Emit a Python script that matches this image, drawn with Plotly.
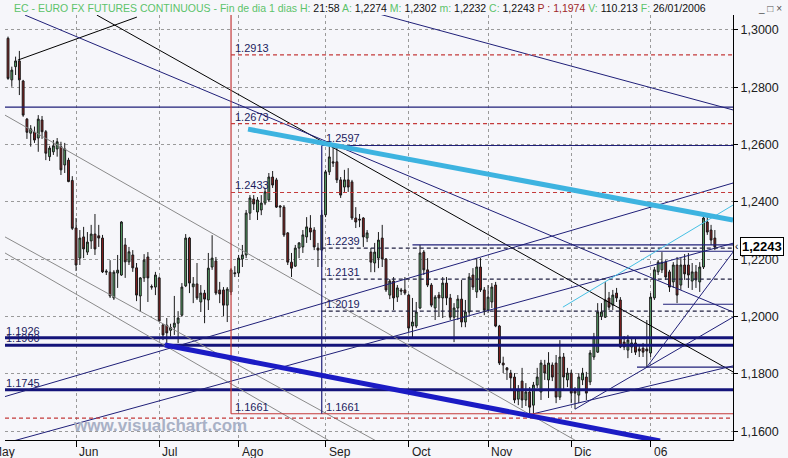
import pandas as pd
import plotly.graph_objects as go

# ---------------- data ----------------
holidays = ["2005-12-26", "2006-01-02"]
dates = [d for d in pd.bdate_range("2005-05-06", "2006-01-26") if d.strftime("%Y-%m-%d") not in holidays]

open_ = [1.2971, 1.2826, 1.2872, 1.2892, 1.2822, 1.2689, 1.2640, 1.2644, 1.2623, 1.2686,
         1.2645, 1.2558, 1.2575, 1.2585, 1.2593, 1.2529, 1.2546, 1.2475, 1.2309, 1.2204,
         1.2278, 1.2225, 1.2264, 1.2288, 1.2282, 1.2274, 1.2155, 1.2155, 1.2065, 1.2152,
         1.2145, 1.2250, 1.2191, 1.2215, 1.2170, 1.2072, 1.2135, 1.2208, 1.2105, 1.2103,
         1.2135, 1.1971, 1.1970, 1.1952, 1.1963, 1.1977, 1.2005, 1.2107, 1.2274, 1.2104,
         1.2114, 1.2051, 1.2082, 1.2058, 1.2173, 1.2194, 1.2093, 1.2093, 1.2040, 1.2086,
         1.2153, 1.2152, 1.2201, 1.2215, 1.2361, 1.2410, 1.2365, 1.2372, 1.2396, 1.2407,
         1.2487, 1.2477, 1.2386, 1.2382, 1.2292, 1.2190, 1.2176, 1.2239, 1.2243, 1.2278,
         1.2309, 1.2302, 1.2239, 1.2232, 1.2355, 1.2505, 1.2540, 1.2540, 1.2477, 1.2452,
         1.2477, 1.2470, 1.2344, 1.2340, 1.2344, 1.2274, 1.2225, 1.2187, 1.2204, 1.2274,
         1.2201, 1.2075, 1.2124, 1.2068, 1.2093, 1.2093, 1.2075, 1.1967, 1.1967, 1.2030,
         1.2225, 1.2163, 1.2110, 1.2030, 1.2075, 1.2065, 1.2117, 1.2065, 1.1998, 1.2030,
         1.2061, 1.1981, 1.2016, 1.2145, 1.2086, 1.2173, 1.2093, 1.2023, 1.2051, 1.2110,
         1.1967, 1.1838, 1.1821, 1.1803, 1.1789, 1.1712, 1.1775, 1.1709, 1.1737, 1.1691,
         1.1761, 1.1737, 1.1831, 1.1779, 1.1831, 1.1838, 1.1719, 1.1859, 1.1779, 1.1803,
         1.1744, 1.1726, 1.1779, 1.1789, 1.1772, 1.1859, 1.1876, 1.2000, 1.1998, 1.2065,
         1.2040, 1.2082, 1.2058, 1.1911, 1.1883, 1.1894, 1.1908, 1.1887, 1.1890, 1.1887,
         1.1873, 1.2065, 1.2156, 1.2163, 1.2190, 1.2156, 1.2121, 1.2180, 1.2110, 1.2180,
         1.2180, 1.2124, 1.2156, 1.2121, 1.2173, 1.2330, 1.2302, 1.2274]
high = [1.2977, 1.2872, 1.2907, 1.2927, 1.2826, 1.2693, 1.2668, 1.2663, 1.2703, 1.2700,
        1.2651, 1.2596, 1.2616, 1.2623, 1.2610, 1.2606, 1.2554, 1.2490, 1.2344, 1.2302,
        1.2313, 1.2295, 1.2320, 1.2358, 1.2320, 1.2285, 1.2165, 1.2197, 1.2162, 1.2215,
        1.2333, 1.2274, 1.2243, 1.2232, 1.2187, 1.2138, 1.2218, 1.2225, 1.2112, 1.2156,
        1.2140, 1.1974, 1.1995, 1.1975, 1.2072, 1.2019, 1.2117, 1.2288, 1.2278, 1.2138,
        1.2187, 1.2110, 1.2093, 1.2222, 1.2284, 1.2208, 1.2121, 1.2103, 1.2103, 1.2169,
        1.2176, 1.2215, 1.2250, 1.2372, 1.2424, 1.2424, 1.2417, 1.2424, 1.2449, 1.2501,
        1.2508, 1.2484, 1.2389, 1.2389, 1.2295, 1.2222, 1.2250, 1.2260, 1.2302, 1.2347,
        1.2354, 1.2312, 1.2257, 1.2372, 1.2512, 1.2597, 1.2595, 1.2592, 1.2487, 1.2512,
        1.2518, 1.2477, 1.2382, 1.2358, 1.2347, 1.2302, 1.2239, 1.2257, 1.2295, 1.2320,
        1.2204, 1.2131, 1.2138, 1.2110, 1.2100, 1.2138, 1.2079, 1.2065, 1.2051, 1.2250,
        1.2232, 1.2204, 1.2117, 1.2075, 1.2086, 1.2138, 1.2138, 1.2079, 1.2047, 1.2075,
        1.2128, 1.2058, 1.2152, 1.2169, 1.2204, 1.2204, 1.2103, 1.2110, 1.2117, 1.2121,
        1.1971, 1.1860, 1.1824, 1.1814, 1.1803, 1.1761, 1.1821, 1.1768, 1.1754, 1.1772,
        1.1821, 1.1849, 1.1849, 1.1876, 1.1840, 1.1866, 1.1918, 1.1873, 1.1821, 1.1814,
        1.1754, 1.1803, 1.1821, 1.1807, 1.1883, 1.1943, 1.2047, 1.2047, 1.2120, 1.2086,
        1.2093, 1.2100, 1.2068, 1.1932, 1.1936, 1.1929, 1.1925, 1.1901, 1.1908, 1.1988,
        1.2082, 1.2173, 1.2197, 1.2225, 1.2197, 1.2163, 1.2190, 1.2208, 1.2204, 1.2218,
        1.2222, 1.2187, 1.2180, 1.2190, 1.2354, 1.2361, 1.2320, 1.2302]
low = [1.2826, 1.2802, 1.2843, 1.2773, 1.2697, 1.2620, 1.2593, 1.2606, 1.2575, 1.2620,
       1.2546, 1.2543, 1.2564, 1.2558, 1.2494, 1.2501, 1.2469, 1.2302, 1.2159, 1.2180,
       1.2204, 1.2215, 1.2236, 1.2215, 1.2243, 1.2152, 1.2145, 1.2065, 1.2058, 1.2100,
       1.2142, 1.2135, 1.2180, 1.2156, 1.2054, 1.2016, 1.2121, 1.2051, 1.2094, 1.2075,
       1.1981, 1.1918, 1.1895, 1.1930, 1.1936, 1.1908, 1.2000, 1.2103, 1.2082, 1.2047,
       1.2058, 1.2016, 1.1977, 1.2023, 1.2163, 1.2075, 1.2047, 1.2002, 1.1981, 1.2075,
       1.2138, 1.2138, 1.2173, 1.2204, 1.2337, 1.2372, 1.2337, 1.2354, 1.2389, 1.2400,
       1.2449, 1.2379, 1.2347, 1.2278, 1.2180, 1.2138, 1.2173, 1.2204, 1.2222, 1.2257,
       1.2267, 1.2232, 1.2173, 1.2173, 1.2347, 1.2494, 1.2522, 1.2466, 1.2414, 1.2435,
       1.2435, 1.2337, 1.2309, 1.2312, 1.2243, 1.2260, 1.2155, 1.2155, 1.2169, 1.2173,
       1.2086, 1.2061, 1.2023, 1.2051, 1.2075, 1.2075, 1.1946, 1.1925, 1.1960, 1.2026,
       1.2145, 1.2103, 1.2033, 1.1988, 1.2000, 1.1995, 1.2040, 1.1988, 1.1911, 1.1988,
       1.1963, 1.1963, 1.2005, 1.2093, 1.2065, 1.2086, 1.2005, 1.2012, 1.2030, 1.1963,
       1.1831, 1.1803, 1.1779, 1.1744, 1.1698, 1.1691, 1.1681, 1.1688, 1.1663, 1.1661,
       1.1751, 1.1709, 1.1779, 1.1716, 1.1775, 1.1698, 1.1709, 1.1744, 1.1754, 1.1698,
       1.1677, 1.1698, 1.1761, 1.1709, 1.1761, 1.1849, 1.1873, 1.1988, 1.1995, 1.2023,
       1.2023, 1.2051, 1.1890, 1.1883, 1.1855, 1.1873, 1.1866, 1.1859, 1.1859, 1.1824,
       1.1859, 1.2058, 1.2145, 1.2152, 1.2128, 1.2086, 1.2100, 1.2047, 1.2093, 1.2128,
       1.2100, 1.2093, 1.2100, 1.2086, 1.2166, 1.2285, 1.2250, 1.2232]
close = [1.2831, 1.2860, 1.2892, 1.2826, 1.2703, 1.2643, 1.2655, 1.2616, 1.2689, 1.2645,
         1.2570, 1.2588, 1.2596, 1.2610, 1.2512, 1.2585, 1.2471, 1.2308, 1.2180, 1.2274,
         1.2236, 1.2260, 1.2288, 1.2236, 1.2274, 1.2156, 1.2158, 1.2072, 1.2155, 1.2162,
         1.2330, 1.2191, 1.2226, 1.2170, 1.2075, 1.2135, 1.2197, 1.2135, 1.2103, 1.2145,
         1.1985, 1.1936, 1.1943, 1.1962, 1.1977, 1.1995, 1.2103, 1.2274, 1.2117, 1.2114,
         1.2065, 1.2082, 1.2061, 1.2169, 1.2204, 1.2082, 1.2079, 1.2040, 1.2096, 1.2163,
         1.2150, 1.2204, 1.2215, 1.2361, 1.2414, 1.2393, 1.2407, 1.2396, 1.2435, 1.2487,
         1.2459, 1.2382, 1.2382, 1.2285, 1.2190, 1.2169, 1.2239, 1.2257, 1.2285, 1.2313,
         1.2295, 1.2243, 1.2232, 1.2354, 1.2505, 1.2557, 1.2536, 1.2477, 1.2424, 1.2477,
         1.2452, 1.2344, 1.2330, 1.2337, 1.2278, 1.2292, 1.2190, 1.2225, 1.2267, 1.2201,
         1.2093, 1.2124, 1.2065, 1.2100, 1.2089, 1.2082, 1.1960, 1.1981, 1.2016, 1.2222,
         1.2163, 1.2110, 1.2040, 1.2068, 1.2065, 1.2117, 1.2065, 1.1998, 1.2030, 1.2061,
         1.1981, 1.2016, 1.2138, 1.2103, 1.2173, 1.2093, 1.2023, 1.2068, 1.2103, 1.1967,
         1.1838, 1.1831, 1.1814, 1.1786, 1.1709, 1.1744, 1.1709, 1.1737, 1.1684, 1.1761,
         1.1789, 1.1838, 1.1803, 1.1838, 1.1789, 1.1719, 1.1859, 1.1789, 1.1803, 1.1733,
         1.1733, 1.1789, 1.1803, 1.1733, 1.1873, 1.1929, 1.2016, 1.2016, 1.2058, 1.2033,
         1.2075, 1.2065, 1.1894, 1.1894, 1.1918, 1.1908, 1.1876, 1.1880, 1.1876, 1.1880,
         1.2068, 1.2163, 1.2190, 1.2190, 1.2138, 1.2103, 1.2180, 1.2075, 1.2180, 1.2149,
         1.2145, 1.2156, 1.2128, 1.2173, 1.2344, 1.2295, 1.2267, 1.2243]

month_ticks = ["2005-06-01", "2005-07-01", "2005-08-01", "2005-09-01", "2005-10-03",
               "2005-11-01", "2005-12-01", "2006-01-03"]
month_labels = ["Jun", "Jul", "Ago", "Sep", "Oct", "Nov", "Dic", "06"]
price_ticks = [1.16, 1.18, 1.20, 1.22, 1.24, 1.26, 1.28, 1.30]
price_labels = ["1,1600", "1,1800", "1,2000", "1,2200", "1,2400", "1,2600", "1,2800", "1,3000"]

X_START = "2005-05-05 04:48"
X_END = "2006-02-01 19:12"
Y_MIN, Y_MAX = 1.15694, 1.30523

# fibonacci tools
red_fib_date = "2005-07-28"
red_fib_levels = [1.2913, 1.2673, 1.2433]
red_fib_base = 1.1661
red_full_dashed = 1.1646
blue_fib_date = "2005-08-31"
blue_fib_top = 1.2597
blue_fib_levels = [1.2239, 1.2131, 1.2019]
blue_fib_base = 1.1661

# horizontal levels across full width
thin_levels = [1.2731]
thick_levels = [1.1926, 1.1900, 1.1745]

# trend lines: (x0, y0, x1, y1)
navy_lines = [
    ("2005-05-12 12:00", 1.3052, X_END, 1.2016),
    ("2005-09-21 09:36", 1.3055, X_END, 1.2721),
    (X_START, 1.1721, X_END, 1.2466),
    (X_START, 1.1558, X_END, 1.2256),
    ("2005-11-17", 1.1661, X_END, 1.1828),
    ("2005-12-02", 1.1677, X_END, 1.1998),
    ("2005-12-30", 1.1824, X_END, 1.2225),
]
black_lines = [
    ("2005-06-08 12:00", 1.3052, X_END, 1.1807),
    ("2005-05-10 14:24", 1.2895, "2005-06-23 02:24", 1.3045),
]
gray_lines = [
    (X_START, 1.2703, "2005-12-05 07:12", 1.1559),
    (X_START, 1.2278, "2005-09-21 09:36", 1.1559),
    (X_START, 1.2222, "2005-09-05", 1.1559),
]
short_levels = [("2005-10-04", 1.2250), ("2005-12-27 09:36", 1.1824),
                ("2006-01-06 07:12", 1.2043), ("2005-12-28 04:48", 1.2228)]
cyan_thick = ("2005-08-03 12:00", 1.2654, X_END, 1.2337)
cyan_thin = ("2005-11-28 19:12", 1.2033, X_END, 1.2389)
blue_thick = ("2005-07-04 12:00", 1.1901, "2006-01-05 12:00", 1.1566)

last_close = 1.2243

# ---------------- colours ----------------
NAVY = "#1F1F78"
RED = "#C43A3A"
GRAY = "#8A8A8A"
BG = "#F6F6FA"
FONT = "Arial, Liberation Sans, sans-serif"

fig = go.Figure()
fig.add_trace(go.Candlestick(
    x=dates, open=open_, high=high, low=low, close=close,
    increasing=dict(line=dict(color="#1A1A1A", width=1), fillcolor="#5BAA6C"),
    decreasing=dict(line=dict(color="#1A1A1A", width=1), fillcolor="#8E1F1F"),
    whiskerwidth=0, showlegend=False, hoverinfo="skip"))

shapes = []

def seg(x0, y0, x1, y1, color, width=1, dash="solid", xref="x"):
    shapes.append(dict(type="line", xref=xref, yref="y", x0=x0, y0=y0, x1=x1, y1=y1,
                       line=dict(color=color, width=width, dash=dash), layer="above"))

for lv in thin_levels:
    seg(0, lv, 1, lv, NAVY, 1.2, xref="paper")
for lv in thick_levels:
    seg(0, lv, 1, lv, "#14147A", 3, xref="paper")
for (x0, y0, x1, y1) in gray_lines:
    seg(x0, y0, x1, y1, GRAY, 1)
for (x0, y0, x1, y1) in black_lines:
    seg(x0, y0, x1, y1, "#000000", 1)
for (x0, y0, x1, y1) in navy_lines:
    seg(x0, y0, x1, y1, NAVY, 1)
for (x0, lv) in short_levels:
    seg(x0, lv, X_END, lv, NAVY, 1.2)

# red fib
seg(red_fib_date, red_fib_base, red_fib_date, Y_MAX, RED, 1.2)
seg(red_fib_date, red_fib_base, X_END, red_fib_base, RED, 1.2)
for lv in red_fib_levels:
    seg(red_fib_date, lv, X_END, lv, RED, 1.2, dash="4px,3px")
seg(0, red_full_dashed, 1, red_full_dashed, RED, 1.2, dash="4px,3px", xref="paper")
# blue fib
seg(blue_fib_date, blue_fib_base, blue_fib_date, blue_fib_top, NAVY, 1.2)
seg(blue_fib_date, blue_fib_top, X_END, blue_fib_top, NAVY, 1.2)
for lv in blue_fib_levels:
    seg(blue_fib_date, lv, X_END, lv, "#202040", 1.2, dash="4px,3px")

seg(*cyan_thin, "#45BFE3", 1)
seg(*cyan_thick, "#3DB3E0", 5)
seg(*blue_thick, "#1B1BC4", 5)

ann = []
LBL = dict(family=FONT, size=11, color="#1C1C60")

def lab(x, y, text, xref="x", xshift=2):
    ann.append(dict(x=x, y=y, xref=xref, yref="y", text=text, showarrow=False,
                    xanchor="left", yanchor="bottom", xshift=xshift, yshift=-1, font=LBL))

for lv in red_fib_levels + [red_fib_base]:
    lab(red_fib_date, lv, f"{lv:.4f}")
for lv in [blue_fib_top] + blue_fib_levels + [blue_fib_base]:
    lab(blue_fib_date, lv, f"{lv:.4f}")
for lv in thick_levels:
    lab(0, lv, f"{lv:.4f}", xref="paper", xshift=-1)

# month labels
for d, t in zip(month_ticks, month_labels):
    ann.append(dict(x=d, y=0, xref="x", yref="paper", text=t, showarrow=False,
                    xanchor="left", yanchor="top", xshift=1, yshift=-3,
                    font=dict(family=FONT, size=12, color="#202020")))
ann.append(dict(x=0, y=0, xref="paper", yref="paper", text="May", showarrow=False,
                xanchor="left", yanchor="top", xshift=-15, yshift=-3,
                font=dict(family=FONT, size=12, color="#202020")))

G, K, R = "#5CC36A", "#101010", "#A02828"
title = (f"<span style='color:{G}'>EC - EURO FX FUTURES CONTINUOUS - Fin de dia 1 dias H:</span> "
         f"<span style='color:{K}'>21:58</span> <span style='color:{G}'>A:</span> "
         f"<span style='color:{K}'>1,2274</span> <span style='color:{G}'>M:</span> "
         f"<span style='color:{K}'>1,2302</span> <span style='color:{G}'>m:</span> "
         f"<span style='color:{K}'>1,2232</span> <span style='color:{G}'>C:</span> "
         f"<span style='color:{K}'>1,2243</span> <span style='color:{R}'>P : 1,1974</span> "
         f"<span style='color:{G}'>V:</span> <span style='color:{K}'>110.213</span> "
         f"<span style='color:{G}'>F:</span> <span style='color:{K}'>26/01/2006</span>")
ann.append(dict(x=0, y=1, xref="paper", yref="paper", text=title, showarrow=False,
                xanchor="left", yanchor="middle", xshift=7, yshift=7,
                font=dict(family=FONT, size=10.5, color=K)))
ann.append(dict(x=1, y=1, xref="paper", yref="paper", text="_ □ ×", showarrow=False,
                xanchor="center", yanchor="middle", xshift=37, yshift=7,
                font=dict(family=FONT, size=10, color="#505050")))
ann.append(dict(x=0.213, y=0.035, xref="paper", yref="paper", text="<b>www.visualchart.com</b>",
                showarrow=False, xanchor="center", yanchor="middle",
                font=dict(family=FONT, size=17, color="#A9B1C6")))
ann.append(dict(x=1, y=last_close, xref="paper", yref="y", text="<b>1,2243</b>",
                showarrow=False, xanchor="left", yanchor="middle", xshift=7,
                bordercolor="#000000", borderwidth=1, borderpad=1, bgcolor="#FFFFFF",
                font=dict(family=FONT, size=13, color="#000000")))
ann.append(dict(x=1, y=last_close, xref="paper", yref="y", text="‹",
                showarrow=False, xanchor="left", yanchor="middle", xshift=0,
                font=dict(family=FONT, size=10, color="#000000")))

fig.update_layout(
    width=788, height=458,
    margin=dict(l=5, r=55, t=15, b=18),
    paper_bgcolor=BG, plot_bgcolor=BG,
    shapes=shapes, annotations=ann, showlegend=False,
    font=dict(family=FONT, size=12, color="#202020"),
    xaxis=dict(type="date", range=[X_START, X_END],
               rangebreaks=[dict(bounds=["sat", "mon"]), dict(values=holidays)],
               tickvals=month_ticks, showticklabels=False,
               ticks="outside", ticklen=6, tickcolor="#000000",
               showgrid=True, gridcolor="#9A9A9A", griddash="dot", gridwidth=1,
               showline=True, linecolor="#000000", linewidth=1,
               rangeslider=dict(visible=False), zeroline=False, fixedrange=True),
    yaxis=dict(side="right", range=[Y_MIN, Y_MAX], tickvals=price_ticks, ticktext=price_labels,
               ticks="outside", ticklen=4, tickcolor="#000000",
               showgrid=True, gridcolor="#9A9A9A", griddash="dot", gridwidth=1,
               showline=True, linecolor="#000000", linewidth=1, zeroline=False,
               tickfont=dict(family=FONT, size=12.5, color="#202020")),
)
fig.write_html("out.html", config={"displayModeBar": False},
               post_script="document.body.style.margin='0';document.body.style.background='" + BG + "';")
